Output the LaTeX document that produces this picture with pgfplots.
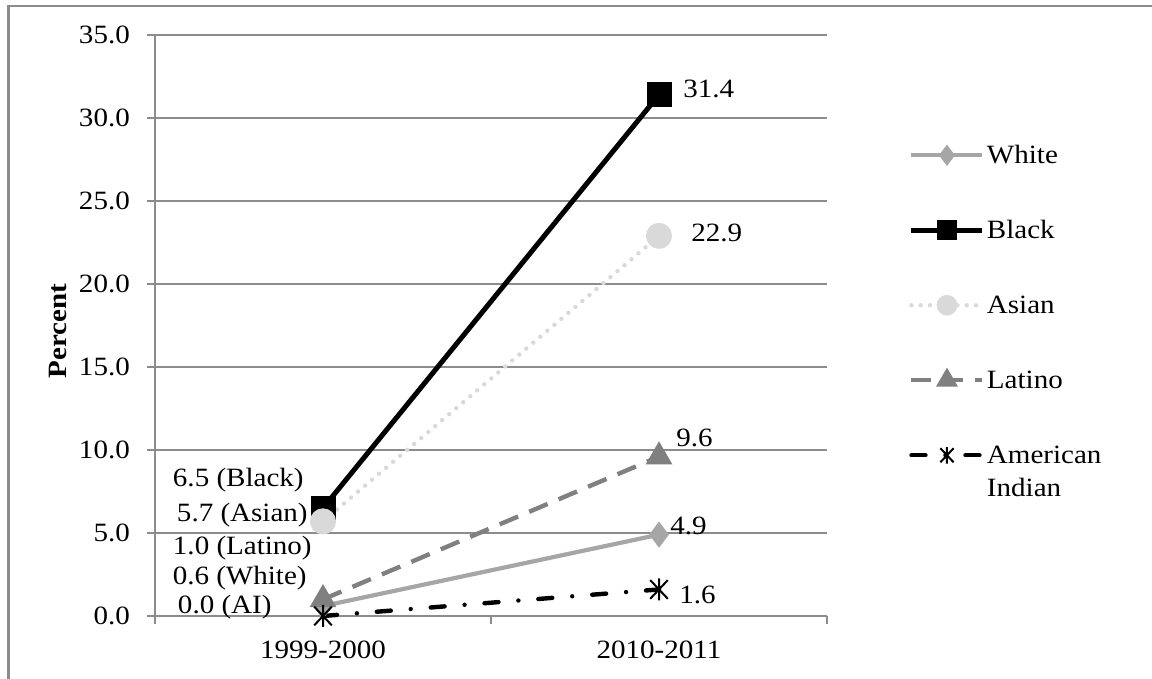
\documentclass[border=0pt]{standalone}
\usepackage{fontspec}
\setmainfont{Liberation Serif}[FakeStretch=1.1]
\usepackage{pgfplots}
\pgfplotsset{compat=1.18}
\definecolor{cWhite}{RGB}{166,166,166}
\definecolor{cAsian}{RGB}{217,217,217}
\definecolor{cLatino}{RGB}{128,128,128}
\definecolor{cGrid}{RGB}{140,140,140}
\pgfdeclareplotmark{xstar}{%
  \pgfpathmoveto{\pgfqpoint{0pt}{\pgfplotmarksize}}%
  \pgfpathlineto{\pgfqpoint{0pt}{-\pgfplotmarksize}}%
  \pgfpathmoveto{\pgfqpoint{-0.8\pgfplotmarksize}{0.85\pgfplotmarksize}}%
  \pgfpathlineto{\pgfqpoint{0.8\pgfplotmarksize}{-0.85\pgfplotmarksize}}%
  \pgfpathmoveto{\pgfqpoint{0.8\pgfplotmarksize}{0.85\pgfplotmarksize}}%
  \pgfpathlineto{\pgfqpoint{-0.8\pgfplotmarksize}{-0.85\pgfplotmarksize}}%
  \pgfusepathqstroke}
\begin{document}
\fontsize{13.2pt}{15pt}\selectfont
\begin{tikzpicture}
\path[use as bounding box] (0,0) rectangle (576pt,339.5pt);
\draw[cGrid, line width=1.2pt] (4.3pt,0) -- (4.3pt,336.6pt) -- (576pt,336.6pt);
\begin{axis}[
  at={(77.5pt,31.5pt)}, anchor=south west,
  scale only axis, width=336pt, height=290.5pt,
  xmin=0, xmax=4, ymin=0, ymax=35,
  clip=false,
  axis x line*=bottom, axis y line*=left,
  axis line style={cGrid, line width=0.6pt},
  every tick/.style={cGrid, line width=0.6pt},
  tick align=outside, major tick length=4pt,
  xtick={0,2,4}, xticklabels={},
  extra x ticks={1,3},
  extra x tick labels={1999-2000,2010-2011},
  extra x tick style={major tick length=0pt, xticklabel style={yshift=-8pt}},
  ytick={0,5,...,35},
  ymajorgrids, grid style={cGrid, line width=0.6pt},
  /pgf/number format/.cd, fixed, fixed zerofill, precision=1, assume math mode=true,
  /pgfplots/.cd,
  yticklabel style={xshift=-4pt},
  ylabel={Percent},
  every axis y label/.style={at={(axis description cs:-0.144,0.491)}, rotate=90, anchor=center, font=\bfseries},
  legend style={at={(axis description cs:1.122,0.8214)}, anchor=north west, draw=none, fill=none,
    inner sep=0pt, outer sep=0pt, row sep=0pt, column sep=1pt, legend cell align=left},
  legend image code/.code={\draw[mark repeat=2,mark phase=2,#1,every mark/.append style={scale=0.75}] plot coordinates {(0pt,0pt) (17.75pt,0pt) (35.5pt,0pt)};},
]
\addplot[cWhite, line width=2.1pt, mark=diamond*, mark size=4.8pt, mark options={solid,fill=cWhite}]
  coordinates {(1,0.6) (3,4.9)};
\addlegendentry[inner sep=0pt, text height=12.25pt, text depth=4.25pt]{White}
\addplot[black, line width=2.5pt, mark=square*, mark size=5pt, mark options={solid,fill=black}]
  coordinates {(1,6.5) (3,31.4)};
\addlegendentry[inner sep=0pt, text height=33.25pt, text depth=25.25pt]{Black}
\addplot[cAsian, line width=2.2pt, line cap=round, dash pattern=on 0pt off 4.6pt, mark=*, mark size=5.4pt, mark options={solid,fill=cAsian}]
  coordinates {(1,5.7) (3,22.9)};
\addlegendentry[inner sep=0pt, text height=12.25pt, text depth=4.25pt]{Asian}
\addplot[cLatino, line width=2.2pt, dash pattern=on 10pt off 6pt, mark=triangle*, mark size=5.5pt, mark options={solid,fill=cLatino}]
  coordinates {(1,1.0) (3,9.6)};
\addlegendentry[inner sep=0pt, text height=33.25pt, text depth=25.25pt]{Latino}
\addplot[black, line width=2.2pt, line cap=round, dash pattern=on 7pt off 10pt on 0pt off 10pt, mark=xstar, mark size=5.5pt, mark options={solid,line width=1pt,line cap=butt}]
  coordinates {(1,0.0) (3,1.6)};
\addlegendentry[inner sep=0pt, text height=12.25pt, text depth=4.25pt]{American}
\addlegendimage{empty legend}
\addlegendentry[inner sep=0pt, text height=12.25pt, text depth=4.25pt]{Indian}
% data labels
\node[anchor=west, inner sep=0pt] at (axis cs:3.143,31.75) {31.4};
\node[anchor=west, inner sep=0pt] at (axis cs:3.190,23.07) {22.9};
\node[anchor=west, inner sep=0pt] at (axis cs:3.101,10.72) {9.6};
\node[anchor=west, inner sep=0pt] at (axis cs:3.065,5.42) {4.9};
\node[anchor=west, inner sep=0pt] at (axis cs:3.119,1.27) {1.6};
\node[anchor=east, inner sep=0pt] at (axis cs:0.887,8.19) {6.5 (Black)};
\node[anchor=east, inner sep=0pt] at (axis cs:0.911,6.08) {5.7 (Asian)};
\node[anchor=east, inner sep=0pt] at (axis cs:0.935,4.10) {1.0 (Latino)};
\node[anchor=east, inner sep=0pt] at (axis cs:0.905,2.29) {0.6 (White)};
\node[anchor=east, inner sep=0pt] at (axis cs:0.696,0.54) {0.0 (AI)};
\end{axis}
\end{tikzpicture}
\end{document}
